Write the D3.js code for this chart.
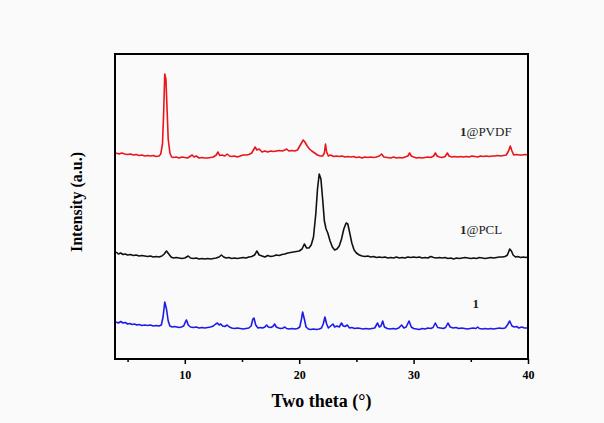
<!DOCTYPE html>
<html lang="en">

<head>
	<meta charset="utf-8">
	<script src='https://d3js.org/d3.v7.min.js'></script>
	<style>
		html, body { margin: 0; padding: 0; background: #fafafa; }
		svg { display: block; }
	</style>
</head>

<body>
	<script>
    // Size of page and plot frame
    const width = 604;
    const height = 423;
    const frame = { left: 115, top: 54, right: 528, bottom: 359 };

    // Tick labels on the bottom axis
    const majorTicks = [10, 20, 30, 40];
    const minorTicks = [5, 15, 25, 35];

    // XRD patterns: [2theta, intensity (a.u., offset stacked)]
    const pvdf = [
      [4.0,206],[4.25,205],[4.5,206],[4.75,205],[5.0,204.5],[5.25,205],[5.5,204],[5.75,204.5],[6.0,203.5],[6.25,204],
      [6.5,203],[6.75,203.5],[7.0,203],[7.25,203.5],[7.5,202.5],[7.75,203],[7.9,205],[8.05,215],[8.15,245],[8.25,285],
      [8.35,280],[8.45,250],[8.55,220],[8.7,206],[8.85,202],[9.0,201.5],[9.25,202],[9.5,201],[9.75,202],[10.0,201.5],
      [10.25,201],[10.5,203],[10.65,204],[10.8,202],[11.0,203],[11.25,201],[11.5,201.5],[11.75,201],[12.0,201],[12.25,201.5],
      [12.5,202],[12.75,204],[12.9,207],[13.05,203.5],[13.25,204],[13.5,203],[13.7,205],[13.9,203],[14.1,202.5],[14.35,203],
      [14.6,202],[14.85,203],[15.1,204],[15.35,204],[15.6,204.5],[15.85,206],[16.0,209],[16.15,212],[16.3,209],[16.5,210],
      [16.75,207],[17.0,208],[17.25,207],[17.5,208],[17.75,207.5],[18.0,208],[18.25,208.5],[18.5,208],[18.75,209],[18.9,210],
      [19.1,208],[19.35,208.5],[19.6,208],[19.85,209],[20.0,212],[20.2,216],[20.35,219],[20.5,217],[20.7,213],[20.9,210],
      [21.1,208],[21.35,206],[21.6,204],[21.85,203],[22.05,203],[22.2,206],[22.3,215],[22.4,207],[22.55,203],[22.75,204],
      [23.0,202.5],[23.25,203],[23.5,202.5],[23.75,203],[24.0,202],[24.25,202.5],[24.5,202],[24.75,202.5],[25.0,201.5],[25.25,202],
      [25.5,201],[25.75,202],[26.0,201.5],[26.25,202],[26.5,201.5],[26.75,202],[27.0,203],[27.2,205],[27.4,202],[27.7,201.5],
      [28.0,201],[28.25,202],[28.5,201],[28.75,201.5],[29.0,201],[29.25,202],[29.5,203],[29.65,206],[29.8,203],[30.0,202],
      [30.25,201],[30.5,201.5],[30.75,201],[31.0,201.5],[31.25,202],[31.5,201.5],[31.75,203],[31.9,206],[32.05,203],[32.25,202],
      [32.5,201.5],[32.75,202.5],[32.95,206],[33.1,203],[33.35,202],[33.6,202.5],[33.85,202],[34.1,202.5],[34.35,202],[34.6,202.5],
      [34.85,202],[35.1,203],[35.35,202.5],[35.6,202],[35.85,203],[36.1,202.5],[36.35,203],[36.6,202.5],[36.85,203],[37.1,203],
      [37.35,203.5],[37.6,203],[37.85,203.5],[38.1,204],[38.3,208],[38.45,213],[38.6,208],[38.75,204],[39.0,204.5],[39.25,204],
      [39.5,204],[39.75,204.5],[40.0,204]
    ];

    const pcl = [
      [4.0,107],[4.2,105],[4.4,106],[4.6,104.5],[4.8,105],[5.0,104],[5.25,104.5],[5.5,103.5],[5.75,104],[6.0,103],
      [6.25,103.5],[6.5,103],[6.75,102.5],[7.0,103],[7.25,102],[7.5,102.5],[7.75,102],[8.0,103],[8.2,105],[8.4,108],
      [8.6,105],[8.8,102],[9.0,101],[9.25,101.5],[9.5,101],[9.75,100.5],[10.0,101],[10.3,103],[10.5,101],[10.75,100.5],
      [11.0,101],[11.25,100],[11.5,100.5],[11.75,100],[12.0,100.5],[12.25,100],[12.5,100.5],[12.75,101],[13.0,102],[13.2,104],
      [13.4,102],[13.6,101],[13.85,101.5],[14.1,100.5],[14.35,101],[14.6,100.5],[14.85,101],[15.1,101.5],[15.35,101],[15.6,102],
      [15.85,102.5],[16.1,104],[16.3,108],[16.5,104],[16.75,103],[17.0,102],[17.25,103.5],[17.5,102.5],[17.75,103],[18.0,104],
      [18.25,103.5],[18.5,104.5],[18.75,105],[19.0,106],[19.25,106.5],[19.5,107],[19.75,107.5],[20.0,108],[20.25,110],[20.45,115],
      [20.65,111],[20.85,111],[21.05,114],[21.25,122],[21.45,145],[21.6,170],[21.75,185],[21.9,180],[22.05,160],[22.2,138],
      [22.35,130],[22.5,126],[22.7,118],[22.9,112],[23.1,109],[23.3,110],[23.5,113],[23.7,120],[23.9,130],[24.1,136],
      [24.25,135],[24.4,127],[24.6,116],[24.8,109],[25.0,106],[25.25,104],[25.5,103],[25.75,102.5],[26.0,103],[26.25,102],
      [26.5,102.5],[26.75,101.5],[27.0,102],[27.25,101.5],[27.5,102],[27.75,101],[28.0,101.5],[28.25,101],[28.5,102],[28.75,101],
      [29.0,101.5],[29.25,101],[29.5,102],[29.75,101.5],[30.0,102],[30.25,101.5],[30.5,102],[30.75,101],[31.0,101.5],[31.25,101],
      [31.5,102.5],[31.75,101.5],[32.0,101],[32.25,101.5],[32.5,101],[32.75,101.5],[33.0,100.5],[33.25,101],[33.5,100],[33.75,101],
      [34.0,100.5],[34.25,101],[34.5,101.5],[34.75,101],[35.0,100.5],[35.25,101],[35.5,100.5],[35.75,101.5],[36.0,101],[36.25,100.5],
      [36.5,101],[36.75,101.5],[37.0,101],[37.25,101.5],[37.5,102],[37.75,102],[38.0,102.5],[38.2,104],[38.4,110],[38.55,108],
      [38.7,104],[38.9,102],[39.1,102.5],[39.35,101.5],[39.6,102],[39.8,101.5],[40.0,102]
    ];

    const pure = [
      [4.0,37],[4.2,36],[4.4,37.5],[4.6,36],[4.8,36.5],[5.0,35],[5.2,35.5],[5.4,34.5],[5.6,35],[5.8,34],
      [6.0,34.5],[6.25,33.5],[6.5,34],[6.75,33.5],[7.0,34],[7.25,33],[7.5,33.5],[7.75,33],[7.95,34],[8.1,42],
      [8.25,57],[8.4,50],[8.55,38],[8.7,33],[8.9,32],[9.1,32.5],[9.3,32],[9.5,31.5],[9.7,32],[9.9,33],
      [10.05,37],[10.15,39],[10.3,34],[10.5,32],[10.75,31.5],[11.0,32],[11.25,31],[11.5,31.5],[11.75,31],[12.0,31.5],
      [12.25,32],[12.5,33],[12.7,35],[12.85,36],[13.0,34],[13.15,35],[13.3,33],[13.5,32.5],[13.7,34],[13.9,32],
      [14.1,31],[14.35,30.5],[14.6,31],[14.85,30.5],[15.1,30],[15.35,30.5],[15.6,31],[15.8,33],[15.95,40],[16.05,41],
      [16.2,34],[16.4,31],[16.6,31.5],[16.8,31],[17.0,32],[17.15,34],[17.3,32],[17.5,31.5],[17.7,32.5],[17.85,35],
      [18.0,32],[18.2,31],[18.4,30.5],[18.6,31],[18.75,32],[18.9,30.5],[19.1,30],[19.35,30.5],[19.6,30],[19.85,30.5],
      [20.05,32],[20.2,40],[20.3,47],[20.45,40],[20.6,32],[20.8,30],[21.0,29.5],[21.25,30],[21.5,29.5],[21.75,30],
      [21.95,31],[22.1,35],[22.25,42],[22.4,35],[22.55,31],[22.75,33],[22.95,35],[23.1,32],[23.3,33],[23.5,32],
      [23.7,36],[23.85,33],[24.0,32.5],[24.2,34],[24.4,31],[24.6,31.5],[24.85,30.5],[25.1,31],[25.35,30.5],[25.6,30],
      [25.85,30.5],[26.1,30],[26.35,30.5],[26.6,31],[26.85,36],[27.0,32],[27.15,33],[27.3,38],[27.45,32],[27.7,30.5],
      [27.95,30],[28.2,30.5],[28.45,30],[28.7,31],[28.95,34],[29.15,31],[29.35,32],[29.6,38],[29.8,32],[30.0,30.5],
      [30.25,30],[30.5,29.5],[30.75,30.5],[31.0,30],[31.25,31],[31.5,30.5],[31.7,31.5],[31.9,36],[32.1,31.5],[32.35,31],
      [32.6,30.5],[32.8,31.5],[33.0,36],[33.2,32],[33.45,31],[33.7,31.5],[33.95,30.5],[34.2,31],[34.45,30.5],[34.7,30],
      [34.95,30.5],[35.2,31],[35.45,30.5],[35.6,32],[35.75,30.5],[36.0,30],[36.25,30.5],[36.5,30],[36.75,30.5],[37.0,30],
      [37.25,30.5],[37.5,31],[37.75,30.5],[38.0,31],[38.2,34],[38.4,38],[38.6,33],[38.8,32],[39.0,32.5],[39.2,31],
      [39.45,32],[39.7,31],[40.0,31]
    ];

    const seriesNames = ["@PVDF", "@PCL", ""];
    const seriesColors = ["#e8151b", "#111111", "#1c1ce6"];
    const seriesData = [pvdf, pcl, pure];
    // where the curve labels sit: [2theta, intensity]
    const labelPos = [[34.05, 223], [34.05, 125], [35.15, 51]];

    const svg = d3.select("body")
      .append("svg")
      .attr("width", width)
      .attr("height", height);

    svg.append("rect")
      .attr("width", width)
      .attr("height", height)
      .attr("fill", "#fafafa");

    // Scales
    const x = d3.scaleLinear()
      .domain([3.9, 40])
      .range([frame.left, frame.right]);
    const y = d3.scaleLinear()
      .domain([0, 305])
      .range([frame.bottom, frame.top]);

    // Curves
    const line = d3.line()
      .x(d => x(d[0]))
      .y(d => y(d[1]));

    svg.selectAll("path.curve")
      .data(seriesData)
      .enter().append("path")
      .attr("class", "curve")
      .attr("fill", "none")
      .attr("stroke", (d, i) => seriesColors[i])
      .attr("stroke-width", 1.6)
      .attr("stroke-linejoin", "round")
      .attr("d", line);

    // Curve labels: bold "1" then regular suffix
    const labels = svg.selectAll("text.lab")
      .data(seriesNames)
      .enter().append("text")
      .attr("class", "lab")
      .attr("x", (d, i) => x(labelPos[i][0]))
      .attr("y", (d, i) => y(labelPos[i][1]))
      .attr("font-family", "'Liberation Serif', 'Times New Roman', serif")
      .attr("font-size", 13)
      .attr("fill", "#222");
    labels.append("tspan").attr("font-weight", "bold").text("1");
    labels.append("tspan").text(d => d);

    // Bottom axis, ticks outward
    const axisG = svg.append("g")
      .attr("transform", `translate(0,${frame.bottom})`)
      .call(d3.axisBottom(x).tickValues(majorTicks).tickSize(5).tickSizeOuter(0).tickPadding(6));
    axisG.select(".domain").remove();
    axisG.selectAll("line").attr("stroke", "#000").attr("stroke-width", 1.5);
    axisG.selectAll("text")
      .attr("font-family", "'Liberation Serif', 'Times New Roman', serif")
      .attr("font-weight", "bold")
      .attr("font-size", 12)
      .attr("fill", "#000");

    const minorG = svg.append("g")
      .attr("transform", `translate(0,${frame.bottom})`)
      .call(d3.axisBottom(x).tickValues(minorTicks).tickSize(3).tickSizeOuter(0).tickFormat(""));
    minorG.select(".domain").remove();
    minorG.selectAll("line").attr("stroke", "#000").attr("stroke-width", 1.5);

    // Frame
    svg.append("rect")
      .attr("x", frame.left)
      .attr("y", frame.top)
      .attr("width", frame.right - frame.left)
      .attr("height", frame.bottom - frame.top)
      .attr("fill", "none")
      .attr("stroke", "#000")
      .attr("stroke-width", 2);

    // Axis titles
    svg.append("text")
      .attr("x", (frame.left + frame.right) / 2)
      .attr("y", 407)
      .attr("text-anchor", "middle")
      .attr("font-family", "'Liberation Serif', 'Times New Roman', serif")
      .attr("font-weight", "bold")
      .attr("font-size", 18)
      .text("Two theta (°)");

    svg.append("text")
      .attr("transform", "translate(82,202) rotate(-90)")
      .attr("text-anchor", "middle")
      .attr("font-family", "'Liberation Serif', 'Times New Roman', serif")
      .attr("font-weight", "bold")
      .attr("font-size", 16)
      .text("Intensity (a.u.)");
	</script>
</body>

</html>
